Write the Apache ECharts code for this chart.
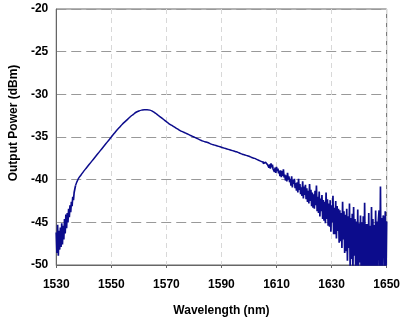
<!DOCTYPE html>
<html>
<head>
<meta charset="utf-8">
<script src="https://cdn.jsdelivr.net/npm/echarts@6/dist/echarts.min.js"></script>
<style>
html, body { margin: 0; padding: 0; background: #fff; }
#chart { width: 403px; height: 322px; }
</style>
</head>
<body>
<div id="chart"></div>
<script>
// x ticks / y ticks
const xTicks = [1530, 1550, 1570, 1590, 1610, 1630, 1650]
const yTicks = [-50, -45, -40, -35, -30, -25, -20]

// short-wavelength edge, sampled every 0.25 nm from 1530
const edgeStart = 1530
const edgeStep = 0.25
const edgePower = [
  -46.2, -48.6, -45.3, -48.9, -46.0, -48.2, -45.6, -47.9,
  -45.1, -47.6, -45.4, -47.0, -44.6, -46.3, -44.1, -45.7,
  -43.9, -45.0, -43.4, -44.4, -43.0, -43.8, -42.6, -43.1,
  -42.0, -42.4, -41.5, -41.6, -40.7
]

// main lobe, every 1 nm from 1537
const lobeStart = 1537
const lobeStep = 1
const lobePower = [
  -40.7, -39.9, -39.45, -39.0, -38.6, -38.2, -37.8, -37.4, -37.0, -36.6,
  -36.2, -35.8, -35.4, -35.0, -34.6, -34.2, -33.85, -33.5, -33.2, -32.9,
  -32.6, -32.35, -32.1, -31.95, -31.85, -31.8, -31.8, -31.85, -32.0, -32.2,
  -32.45, -32.7, -32.95, -33.2, -33.45, -33.65, -33.85, -34.05, -34.25, -34.4,
  -34.55, -34.7, -34.85, -35.0, -35.15, -35.3, -35.45, -35.55, -35.65, -35.8,
  -35.9, -36.0, -36.1, -36.2, -36.3, -36.4, -36.5, -36.6, -36.7, -36.8,
  -36.95, -37.05, -37.15, -37.25, -37.4, -37.5, -37.65, -37.8, -37.95
]

// noisy long-wavelength tail, every 0.25 nm from 1605
const tailStart = 1605
const tailStep = 0.25
const tailPower = [
  -37.85, -38.1, -37.9, -38.15, -37.95, -38.1, -37.9, -38.25,
  -38.15, -38.6, -38.2, -38.7, -38.1, -38.55, -38.25, -38.75,
  -38.55, -39.1, -38.6, -39.2, -38.5, -39.0, -38.7, -39.25,
  -38.95, -39.6, -38.9, -39.7, -39.0, -39.55, -38.8, -39.75,
  -39.4, -40.1, -39.5, -40.2, -39.2, -40.0, -39.6, -40.3,
  -39.9, -40.7, -39.6, -40.9, -40.0, -40.5, -39.9, -41.0,
  -40.4, -41.3, -40.3, -41.5, -39.9, -41.2, -40.5, -41.7,
  -40.9, -41.9, -40.2, -42.2, -40.8, -41.8, -40.6, -42.3,
  -41.0, -42.6, -41.3, -42.8, -40.5, -42.5, -41.2, -43.1,
  -41.5, -43.3, -41.7, -43.4, -41.3, -43.0, -40.7, -43.7,
  -42.0, -43.9, -41.4, -44.3, -42.2, -43.7, -41.8, -44.6,
  -42.4, -44.8, -42.6, -45.1, -41.5, -44.6, -42.3, -45.4,
  -42.8, -45.5, -42.4, -46.1, -43.0, -45.0, -41.9, -46.4,
  -43.3, -46.4, -42.5, -46.9, -43.1, -46.0, -43.4, -47.4,
  -43.6, -47.2, -43.9, -48.0, -42.6, -47.0, -43.7, -48.6,
  -44.1, -48.4, -43.4, -49.5, -44.3, -48.0, -42.8, -50.6,
  -44.5, -49.3, -44.0, -50.8, -43.2, -48.9, -44.6, -51.0,
  -44.9, -50.1, -43.5, -51.2, -45.1, -49.7, -44.2, -51.5,
  -45.0, -50.5, -44.3, -51.4, -42.7, -50.2, -45.2, -51.2,
  -45.2, -50.8, -43.9, -51.5, -45.4, -50.4, -43.2, -51.6,
  -44.6, -51.0, -45.3, -51.4, -43.6, -50.6, -44.9, -51.3,
  -44.7, -43.6, -50.9, -40.8, -51.4, -44.5, -50.5, -44.2,
  -44.5, -51.1, -43.7, -51.3, -44.9
]

function pairs(start, step, values) {
  return values.map((v, i) => [start + i * step, v])
}

const lineColor = '#0c0c8c'
const chart = echarts.init(document.getElementById('chart'))

const axisFont = {
  color: '#000',
  fontFamily: 'Liberation Sans, Arial, sans-serif',
  fontSize: 12,
  fontWeight: 'bold'
}

chart.setOption({
  animation: false,
  backgroundColor: '#fff',
  grid: {
    left: 50,
    right: 15,
    top: 9,
    bottom: 55,
    show: true,
    borderColor: '#666',
    borderWidth: 1
  },
  xAxis: {
    type: 'value',
    min: xTicks[0],
    max: xTicks[xTicks.length - 1],
    interval: 20,
    name: 'Wavelength (nm)',
    nameLocation: 'middle',
    nameGap: 40,
    nameTextStyle: axisFont,
    axisLine: { lineStyle: { color: '#666' } },
    axisTick: { show: true, length: 3, lineStyle: { color: '#666' } },
    axisLabel: Object.assign({}, axisFont, {
      margin: 14,
      formatter: v => String(v)
    }),
    splitLine: { show: true, lineStyle: { color: '#d8d8d8', type: [5, 4] } }
  },
  yAxis: {
    type: 'value',
    min: yTicks[0],
    max: yTicks[yTicks.length - 1],
    interval: 5,
    name: 'Output Power (dBm)',
    nameLocation: 'middle',
    nameGap: 34,
    nameTextStyle: Object.assign({}, axisFont, { padding: [0, 0, 0, 28] }),
    axisLine: { show: true, lineStyle: { color: '#666' } },
    axisTick: { show: false },
    axisLabel: Object.assign({}, axisFont, { margin: 8 }),
    splitLine: { show: true, lineStyle: { color: '#999', type: [10, 5] } }
  },
  series: [{
    type: 'line',
    data: pairs(edgeStart, edgeStep, edgePower),
    showSymbol: false,
    lineStyle: { color: lineColor, width: 1.7 },
    clip: true
  }, {
    type: 'line',
    data: pairs(lobeStart, lobeStep, lobePower),
    showSymbol: false,
    smooth: true,
    lineStyle: { color: lineColor, width: 1.5 },
    clip: true
  }, {
    type: 'line',
    data: pairs(tailStart, tailStep, tailPower),
    showSymbol: false,
    lineStyle: { color: lineColor, width: 1.7 },
    clip: true
  }]
})
</script>
</body>
</html>
